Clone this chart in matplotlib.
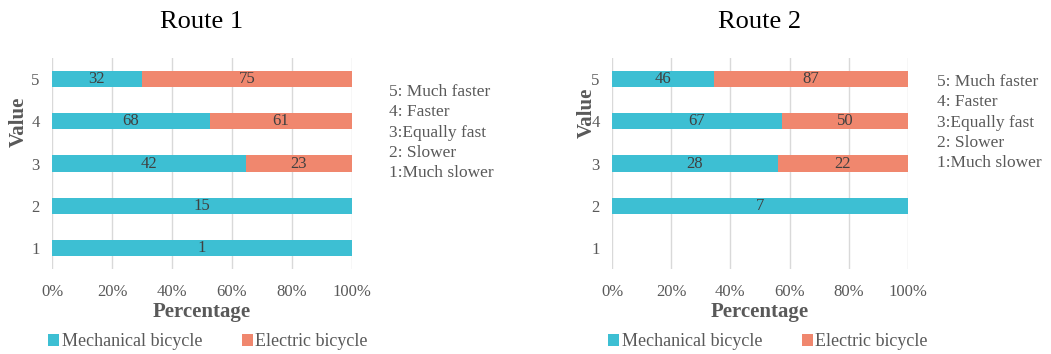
import matplotlib
matplotlib.use("Agg")
import matplotlib.pyplot as plt
from matplotlib.patches import Patch
import numpy as np

plt.rcParams['font.family'] = ['Liberation Serif', 'DejaVu Serif']

# answer counts per rating value (1..5) for each route
values = [1, 2, 3, 4, 5]
route1_mech = [1, 15, 42, 68, 32]
route1_elec = [0, 0, 23, 61, 75]
route2_mech = [0, 7, 28, 67, 46]
route2_elec = [0, 0, 22, 50, 87]

titles = ["Route 1", "Route 2"]
scale_text = ["5: Much faster", "4: Faster", "3:Equally fast", "2: Slower", "1:Much slower"]
series_names = ["Mechanical bicycle", "Electric bicycle"]

MECH = "#3dbfd3"
ELEC = "#f0876e"
GRAY = "#595959"

W, H = 1051, 354
fig = plt.figure(figsize=(W / 100, H / 100), dpi=100)


def draw_panel(x0, width, mech, elec, title, ylabel_x, ylabel_y, note_x, note_y0):
    ax = fig.add_axes([x0 / W, 1 - 269 / H, width / W, 211 / H])
    mech = np.array(mech, dtype=float)
    elec = np.array(elec, dtype=float)
    total = mech + elec
    safe = np.where(total > 0, total, 1)
    mech_pct = np.where(total > 0, mech / safe * 100, 0)
    elec_pct = np.where(total > 0, elec / safe * 100, 0)

    ax.barh(values, mech_pct, height=0.38, color=MECH, zorder=3)
    ax.barh(values, elec_pct, left=mech_pct, height=0.38, color=ELEC, zorder=3)

    for v, m, e, mp, ep in zip(values, mech, elec, mech_pct, elec_pct):
        if m > 0:
            ax.text(mp / 2, v, f"{int(m)}", ha="center", va="center",
                    fontsize=12, color="#404040", zorder=4)
        if e > 0:
            ax.text(mp + ep / 2, v, f"{int(e)}", ha="center", va="center",
                    fontsize=12, color="#404040", zorder=4)

    ax.set_xlim(0, 100)
    ax.set_ylim(0.5, 5.5)
    ax.set_xticks(np.arange(0, 101, 20))
    ax.set_xticklabels([f"{t}%" for t in range(0, 101, 20)])
    ax.set_yticks(values)
    ax.tick_params(axis="x", length=0, pad=11, labelsize=12, labelcolor=GRAY)
    ax.tick_params(axis="y", length=0, pad=9, labelsize=12, labelcolor=GRAY)
    ax.grid(axis="x", color="#d9d9d9", linewidth=1, zorder=0)
    for s in ax.spines.values():
        s.set_visible(False)

    ax.set_xlabel("Percentage", fontsize=15, fontweight="bold", color=GRAY, labelpad=1)
    ax.set_ylabel("Value", fontsize=15, fontweight="bold", color=GRAY)
    ax.yaxis.set_label_coords((ylabel_x - x0) / width, (269 - ylabel_y) / 211)
    ax.set_title(title, fontsize=19, color="black", pad=0, y=(269 - 22) / 211)
    ax.title.set_va("center")

    for i, line in enumerate(scale_text):
        fig.text(note_x / W, 1 - (note_y0 + i * 20.3) / H, line, fontsize=12.5,
                 color=GRAY, va="center", ha="left")

    handles = [Patch(facecolor=MECH), Patch(facecolor=ELEC)]
    fig.legend(handles, series_names, loc="center left",
               bbox_to_anchor=((x0 - 4) / W, 1 - 342 / H), ncol=2, frameon=False,
               fontsize=13, handlelength=0.6, handleheight=0.6, handletextpad=0.15,
               columnspacing=2.2, labelcolor=GRAY, borderaxespad=0, borderpad=0)
    return ax


draw_panel(52, 300, route1_mech, route1_elec, titles[0], 29, 122, 389, 92)
draw_panel(612, 296, route2_mech, route2_elec, titles[1], 597, 113, 937, 82)

fig.savefig("out.png", dpi=100)
